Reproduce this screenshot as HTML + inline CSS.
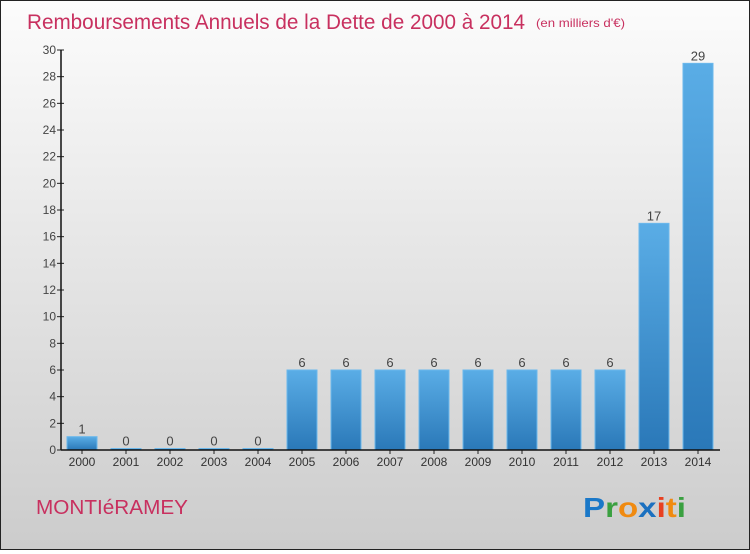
<!DOCTYPE html>
<html><head><meta charset="utf-8"><style>
body{margin:0;width:750px;height:550px;overflow:hidden}
#c{position:relative;width:748px;height:548px;border:1px solid #222;background:linear-gradient(#fcfcfc,#cccccc)}
text{font-family:"Liberation Sans",sans-serif}
</style></head><body>
<div id="c">
<svg id="s" width="748" height="548" viewBox="1 1 748 548" xmlns="http://www.w3.org/2000/svg">
<defs><linearGradient id="g" x1="0" y1="0" x2="0" y2="1"><stop offset="0" stop-color="#5aade6"/><stop offset="1" stop-color="#2a78b8"/></linearGradient></defs>
<text x="27" y="29" font-size="21" fill="#c8305f" textLength="498" lengthAdjust="spacingAndGlyphs">Remboursements Annuels de la Dette de 2000 à 2014</text>
<text x="536" y="27" font-size="12" fill="#c8305f" textLength="89" lengthAdjust="spacingAndGlyphs">(en milliers d'€)</text>
<text x="36" y="514" font-size="20" fill="#c8305f" textLength="152" lengthAdjust="spacingAndGlyphs">MONTIéRAMEY</text>
<g font-size="28" font-weight="bold">
<text x="583" y="517" textLength="103" lengthAdjust="spacingAndGlyphs"><tspan fill="#1a78c8">P</tspan><tspan fill="#3aa040">r</tspan><tspan fill="#f08a10">o</tspan><tspan fill="#1a70c0">x</tspan><tspan fill="#e84020">i</tspan><tspan fill="#f08a10">t</tspan><tspan fill="#3aa040">i</tspan></text></g>
<g id="plot"></g>
</svg></div>
<script>
const categories=["2000","2001","2002","2003","2004","2005","2006","2007","2008","2009","2010","2011","2012","2013","2014"];
const values=[1,0,0,0,0,6,6,6,6,6,6,6,6,17,29];
const yTicks=[0,2,4,6,8,10,12,14,16,18,20,22,24,26,28,30];
const NS="http://www.w3.org/2000/svg";
const p=document.getElementById('plot');
const x0=61,x1=720,y0=450,y1=50,ymax=30;
const y=v=>y0-(v/ymax)*(y0-y1);
const step=44,first=82;
const xc=i=>first+i*step;
function el(t,a){const e=document.createElementNS(NS,t);for(const k in a)e.setAttribute(k,a[k]);p.appendChild(e);return e;}
yTicks.forEach(t=>{
 const l=el('line',{x1:x0-4,x2:x0+3,y1:y(t),y2:y(t),stroke:'#222'});
 
 
 const tx=el('text',{x:x0-5,y:y(t)+4,'font-size':12,fill:'#444','text-anchor':'end'});
 tx.textContent=t;
 
 
});
categories.forEach((c,i)=>{
 const v=values[i];
 const h=Math.max(y0-y(v),1.5);
 const r=el('rect',{x:xc(i)-15,y:y0-h,width:30,height:h,fill:'url(#g)',stroke:'#6bb8ec','stroke-width':1});
 
 
 const vt=el('text',{x:xc(i),y:y0-h-3,'font-size':13,fill:'#444','text-anchor':'middle'});
 vt.textContent=v;
 
 
 const tk=el('line',{x1:xc(i),x2:xc(i),y1:y0,y2:y0+4,stroke:'#222'});
 
 
 const xt=el('text',{x:xc(i),y:y0+16,'font-size':12,fill:'#333','text-anchor':'middle'});
 xt.textContent=c;
 
 
});
const ya=el('line',{x1:x0,x2:x0,y1:y1,y2:y0,stroke:'#111','stroke-width':1.5});


const xa=el('line',{x1:x0,x2:x1,y1:y0,y2:y0,stroke:'#111','stroke-width':1.5});


</script>
</body></html>
